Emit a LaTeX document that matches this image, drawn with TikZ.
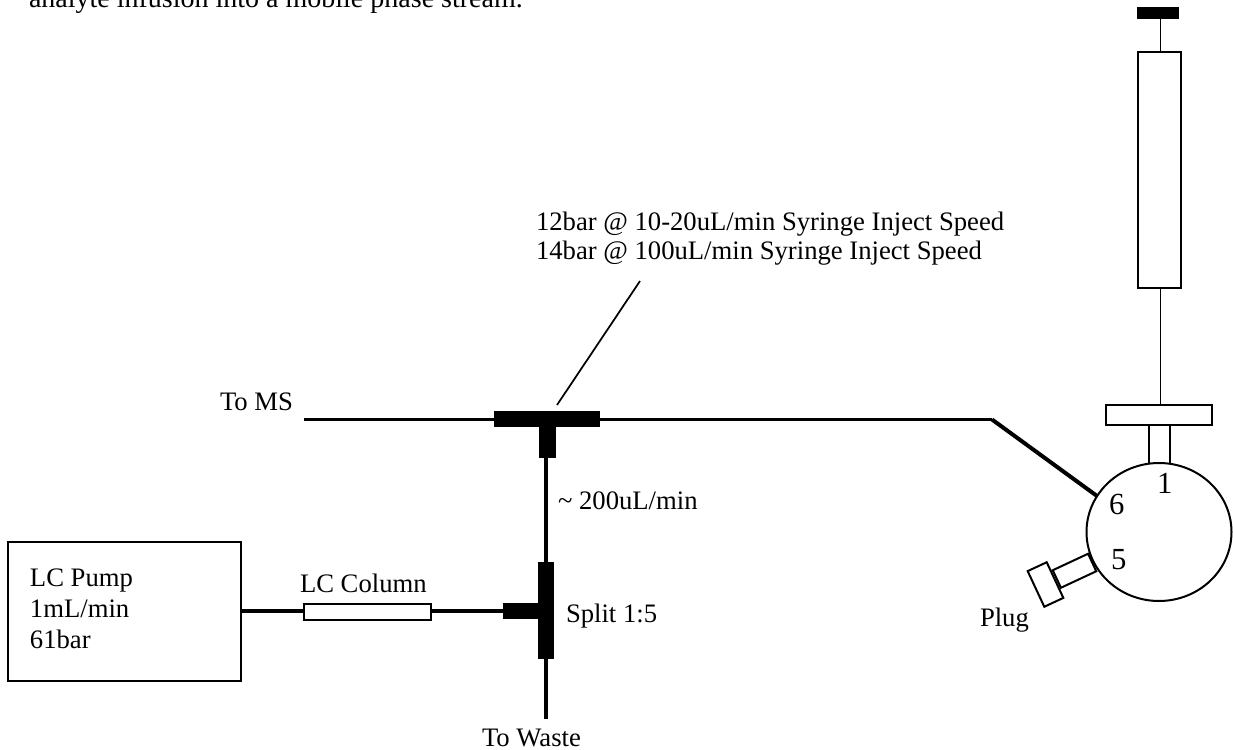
\documentclass[tikz,border=0pt]{standalone}
\usepackage{fontspec}
\usetikzlibrary{shapes.geometric}
\setmainfont{Liberation Serif}
\begin{document}
\begin{tikzpicture}[x=0.75pt,y=-0.75pt,
  box/.style={draw=black,fill=white,line width=1.5pt,inner sep=0pt,outer sep=0pt},
  solid part/.style={fill=black,draw=none,inner sep=0pt,outer sep=0pt},
  thin line/.style={draw=black,line width=1.3pt},
  tube/.style={draw=black,line width=2.3pt},
  thick tube/.style={draw=black,line width=3pt},
  lbl/.style={inner sep=0pt,outer sep=0pt,anchor=base west,font=\fontsize{20}{22}\selectfont},
  intro text/.style={inner sep=0pt,outer sep=0pt,anchor=base west,font=\fontsize{21}{23}\selectfont},
  portno/.style={inner sep=0pt,outer sep=0pt,anchor=base west,font=\fontsize{23}{25}\selectfont}]
\useasboundingbox (0,0) rectangle (1233,750);
\node[intro text] (intro) at (29,7.5) {analyte infusion into a mobile phase stream.};
% syringe
\node[solid part,minimum width=31.5pt,minimum height=9pt] (handle) at (1158,13) {};
\node[box,minimum width=32.25pt,minimum height=177pt] (barrel) at (1159.5,170) {};
\node[box,minimum width=79.5pt,minimum height=15pt] (flange) at (1159,415) {};
\coordinate (axis) at (1160.5,0);
\draw[thin line] (axis |- handle.south) -- (axis |- barrel.north);
\draw[thin line] (axis |- barrel.south) -- (axis |- flange.north);
% plug and neck
\node[box,rotate=25,minimum width=29.25pt,minimum height=14.5pt] (plugneck) at (1074.5,570.75) {};
\node[box,minimum width=15.75pt,minimum height=29.25pt] (neck) at (1159.5,444.5) {};
\node[box,rotate=25,minimum width=15.75pt,minimum height=29.5pt] (plugcap) at (1045.5,584.5) {};
\node[box,ellipse,minimum width=108.75pt,minimum height=103.5pt] (valve) at (1159,532) {};
\node[portno] (p1) at (1157,493) {1};
\node[portno] (p6) at (1109,514) {6};
\node[portno] (p5) at (1111,569) {5};
\node[lbl] (plug) at (980,626) {Plug};
% tee top
\node[solid part,minimum width=79.5pt,minimum height=12pt] (teeh) at (547,419) {};
\node[solid part,minimum width=12.75pt,minimum height=24pt] (teev) at (547.5,442) {};
% tee bottom
\node[solid part,minimum width=12pt,minimum height=72.75pt] (splitv) at (546,610.5) {};
\node[solid part,minimum width=26.25pt,minimum height=12pt] (splith) at (520.5,611) {};
% pump and column
\node[box,minimum width=174.75pt,minimum height=104.25pt] (pump) at (124.5,611.5) {};
\node[box,minimum width=95.25pt,minimum height=12pt] (column) at (367.5,611.5) {};
% tubing
\coordinate (ms) at (304,419.5);
\coordinate (bend) at (992,419.5);
\coordinate (p6end) at (1097,496);
\coordinate (waste) at (546,719);
\coordinate (leadtop) at (640,281);
\coordinate (leadbot) at (557,405);
\draw[tube] (ms) -- (teeh.west |- ms);
\draw[tube] (teeh.east |- bend) -- (bend);
\draw[thick tube] (bend) -- (p6end);
\draw[tube] (teev.south -| splitv.north) -- (splitv.north);
\draw[tube] (splitv.south) -- (waste);
\draw[tube] (pump.east |- splith.west) -- (column.west |- splith.west);
\draw[tube] (column.east |- splith.west) -- (splith.west);
\draw[thin line] (leadtop) -- (leadbot);
% labels
\node[lbl] (speed1) at (536,230) {12bar @ 10-20uL/min Syringe Inject Speed};
\node[lbl] (speed2) at (536,259) {14bar @ 100uL/min Syringe Inject Speed};
\node[lbl] (toms) at (220,410) {To MS};
\node[lbl] (flow) at (558,509) {\textasciitilde{} 200uL/min};
\node[lbl] (split) at (566,622) {Split 1:5};
\node[lbl] (lccol) at (300,592) {LC Column};
\node[lbl] (pl1) at (30,586) {LC Pump};
\node[lbl] (pl2) at (30,617) {1mL/min};
\node[lbl] (pl3) at (30,648) {61bar};
\node[lbl] (towaste) at (482,746) {To Waste};
\end{tikzpicture}
\end{document}
